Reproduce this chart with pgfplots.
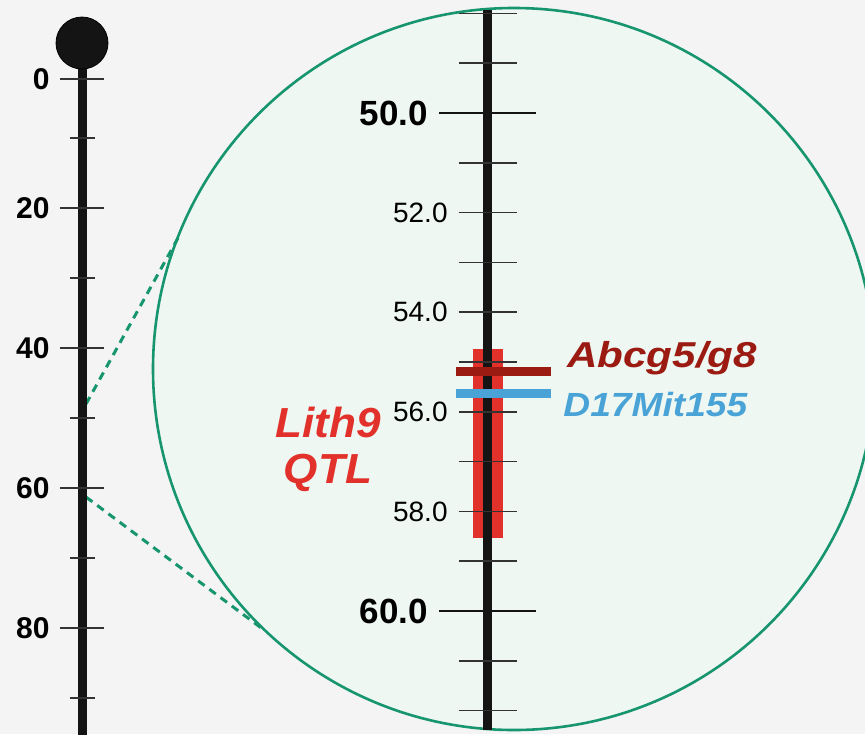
\documentclass[border=0pt]{standalone}
\usepackage{fontspec}
\setmainfont{Liberation Sans}
\usepackage{graphicx}
\usepackage{pgfplots}
\pgfplotsset{compat=1.18}
\definecolor{bg}{HTML}{F4F4F4}
\definecolor{mint}{HTML}{EEF7F2}
\definecolor{zgreen}{HTML}{17956F}
\definecolor{chrom}{HTML}{141414}
\definecolor{tickc}{HTML}{333333}
\definecolor{qtlred}{HTML}{E2302A}
\definecolor{darkred}{HTML}{9B1B12}
\definecolor{mblue}{HTML}{4AA3D7}
\begin{document}
\begin{tikzpicture}
\useasboundingbox (0,0) rectangle (432.5pt,-367pt);
\begin{scope}
\clip (0,0) rectangle (432.5pt,-367pt);
\fill[bg] (0,0) rectangle (432.5pt,-367pt);
\draw[zgreen, fill=mint, line width=1.3pt] (257pt,-184.5pt) circle (180.5pt);
\draw[zgreen, line width=1.5pt, dash pattern=on 4pt off 3pt] (43pt,-202pt) -- (89pt,-119pt);
\draw[zgreen, line width=1.5pt, dash pattern=on 4pt off 3pt] (43pt,-248.5pt) -- (132pt,-315pt);
% left chromosome
\begin{axis}[
  at={(41pt,0pt)}, anchor=north west,
  scale only axis, width=41pt, height=367pt,
  xmin=0, xmax=82, ymin=-9.714, ymax=95.143, y dir=reverse,
  axis x line=none, axis y line=left,
  axis line style={draw=none},
  clip=false, axis on top,
  tick align=center,
  ytick={1.57,20,40,60,80},
  yticklabels={0,20,40,60,80},
  minor ytick={10,30,50,70,90},
  major tick length=21.5pt, minor tick length=12.5pt,
  every tick/.style={tickc, line width=0.7pt},
  yticklabel style={font=\bfseries\fontsize{15}{15}\selectfont, inner sep=0pt, text=black},
  yticklabel shift=5.25pt,
]
\addplot[chrom, line width=4.5pt] coordinates {(0,-3.57) (0,96)};
\addplot[only marks, mark=*, mark size=13pt, mark options={fill=chrom, draw=none}] coordinates {(0,-3.57)};
\end{axis}
% right zoomed chromosome
\begin{axis}[
  at={(243.75pt,0pt)}, anchor=north west,
  scale only axis, width=100pt, height=367pt,
  xmin=0, xmax=200, ymin=47.731, ymax=62.470, y dir=reverse,
  axis x line=none, axis y line=left,
  axis line style={draw=none},
  clip=false, axis on top,
  tick align=center,
  ytick={48,49,51,52,53,54,55,56,57,58,59,61,62},
  yticklabels={{},{},{},52.0,{},54.0,{},56.0,{},58.0,{},{},{}},
  major tick length=29pt,
  every tick/.style={tickc, line width=0.8pt},
  yticklabel style={font=\fontsize{14}{14}\selectfont, inner sep=0pt, text=black},
  yticklabel shift=5.25pt,
  extra y ticks={50,60},
  extra y tick labels={50.0,60.0},
  extra y tick style={major tick length=48.5pt,
     every tick/.style={chrom, line width=1.4pt},
     yticklabel style={font=\bfseries\fontsize{17.5}{17.5}\selectfont}},
]
\addplot[qtlred, line width=15pt] coordinates {(0,54.74) (0,58.53)};
\addplot[chrom, line width=4.75pt] coordinates {(0,47.93) (0,62.39)};
\addplot[darkred, line width=4.5pt] coordinates {(-32,55.19) (63,55.19)};
\addplot[mblue, line width=4.5pt] coordinates {(-32,55.63) (63,55.63)};
\end{axis}
\node[anchor=base west, inner sep=0pt, text=darkred, font=\bfseries\itshape\fontsize{18}{18}\selectfont] at (283.5pt,-183.5pt) {\scalebox{1.17}[1]{Abcg5/g8}};
\node[anchor=base west, inner sep=0pt, text=mblue, font=\bfseries\itshape\fontsize{16.75}{16.75}\selectfont] at (281.5pt,-208pt) {\scalebox{1.11}[1]{D17Mit155}};
\node[anchor=base, inner sep=0pt, text=qtlred, font=\bfseries\itshape\fontsize{21}{21}\selectfont] at (164pt,-218.5pt) {\scalebox{1.05}[1]{Lith9}};
\node[anchor=base, inner sep=0pt, text=qtlred, font=\bfseries\itshape\fontsize{21}{21}\selectfont] at (164pt,-241.5pt) {\scalebox{1.05}[1]{QTL}};
\end{scope}
\end{tikzpicture}
\end{document}
